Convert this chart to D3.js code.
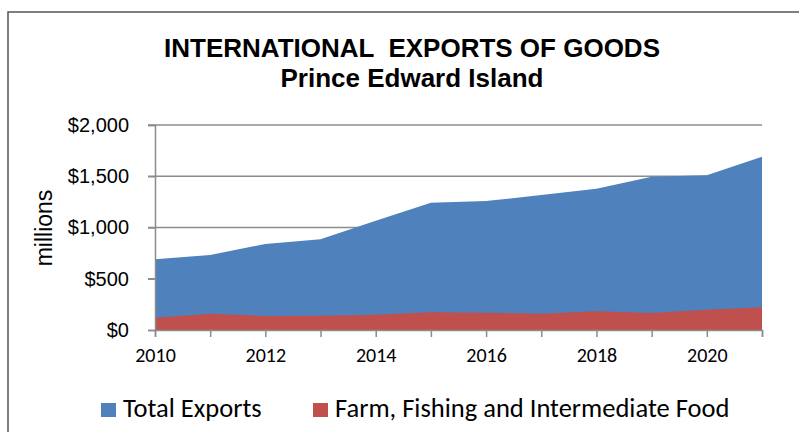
<!DOCTYPE html>
<html>
<head>
<meta charset="utf-8">
<script src="https://cdnjs.cloudflare.com/ajax/libs/d3/7.8.5/d3.min.js"></script>
<style>
  body { margin: 0; background: #fff; }
  svg { display: block; }
</style>
</head>
<body>
<div id="chart"></div>
<script>
var years = [2010, 2011, 2012, 2013, 2014, 2015, 2016, 2017, 2018, 2019, 2020, 2021];
var totalExports = [690, 732, 839, 885, 1065, 1242, 1258, 1317, 1379, 1496, 1509, 1691];
var farmFood = [120, 159, 137, 140, 150, 172, 169, 159, 182, 166, 198, 221];
var yTicks = [0, 500, 1000, 1500, 2000];
var xLabels = [2010, 2012, 2014, 2016, 2018, 2020];
var seriesNames = ['Total Exports', 'Farm, Fishing and Intermediate Food'];

var width = 799, height = 432;
var arial = "'Liberation Sans', Arial, sans-serif";
var calibri = "Carlito, Calibri, Lato, sans-serif";
var blue = '#4F81BD', red = '#C0504D', grid = '#8c8c8c';

var svg = d3.select('#chart').append('svg').attr('width', width).attr('height', height);

// chart border (runs off the right and bottom)
svg.append('rect').attr('x', 8).attr('y', 12).attr('width', 808).attr('height', 440)
  .attr('fill', 'none').attr('stroke', '#555').attr('stroke-width', 1.5);

var x = d3.scaleLinear().domain([2010, 2021]).range([155, 762]);
var y = d3.scaleLinear().domain([0, 2000]).range([330, 125]);

// gridlines
svg.append('g').selectAll('line').data(yTicks.filter(d => d > 0)).join('line')
  .attr('x1', 148).attr('x2', x(2021))
  .attr('y1', d => y(d)).attr('y2', d => y(d))
  .attr('stroke', grid).attr('stroke-width', 1.5);

var totalArea = d3.area().x((d, i) => x(years[i])).y0(y(0)).y1(d => y(d));

svg.append('path').datum(totalExports).attr('d', totalArea).attr('fill', blue);
svg.append('path').datum(farmFood).attr('d', totalArea).attr('fill', red);

// y axis
var yAxis = svg.append('g').attr('transform', 'translate(' + x(2010) + ',0)')
  .call(d3.axisLeft(y).tickValues(yTicks).tickSize(7).tickPadding(19)
    .tickFormat(d => '$' + d3.format(',')(d)));
yAxis.select('.domain').attr('stroke', grid).attr('stroke-width', 1.5);
yAxis.selectAll('.tick line').attr('stroke', grid).attr('stroke-width', 1.5);
yAxis.selectAll('text').attr('font-family', arial).attr('font-size', 20).attr('fill', '#000');

// x axis
var xAxis = svg.append('g').attr('transform', 'translate(0,' + y(0) + ')')
  .call(d3.axisBottom(x).tickValues(years).tickSize(7).tickPadding(11)
    .tickFormat(d => xLabels.indexOf(d) >= 0 ? d : ''));
xAxis.select('.domain').attr('stroke', grid).attr('stroke-width', 1.5);
xAxis.selectAll('.tick line').attr('stroke', grid).attr('stroke-width', 1.5);
xAxis.selectAll('text').attr('font-family', calibri).attr('font-size', 20).attr('fill', '#000');

// titles
svg.append('text').attr('x', 412).attr('y', 57).attr('text-anchor', 'middle')
  .attr('font-family', arial).attr('font-weight', 'bold').attr('font-size', 26)
  .text('INTERNATIONAL  EXPORTS OF GOODS').attr('xml:space', 'preserve');
svg.append('text').attr('x', 412).attr('y', 87).attr('text-anchor', 'middle')
  .attr('font-family', arial).attr('font-weight', 'bold').attr('font-size', 26)
  .text('Prince Edward Island');

svg.append('text').attr('transform', 'translate(52,228) rotate(-90)').attr('text-anchor', 'middle')
  .attr('font-family', arial).attr('font-size', 23).text('millions');

// legend
var legendX = [101, 313];
var legend = svg.append('g').selectAll('g').data(seriesNames).join('g')
  .attr('transform', (d, i) => 'translate(' + legendX[i] + ',403)');
legend.append('rect').attr('width', 15).attr('height', 14).attr('fill', (d, i) => [blue, red][i]);
legend.append('text').attr('x', 22).attr('y', 14).attr('font-family', calibri).attr('font-size', 26.5)
  .text(d => d);
</script>
</body>
</html>
